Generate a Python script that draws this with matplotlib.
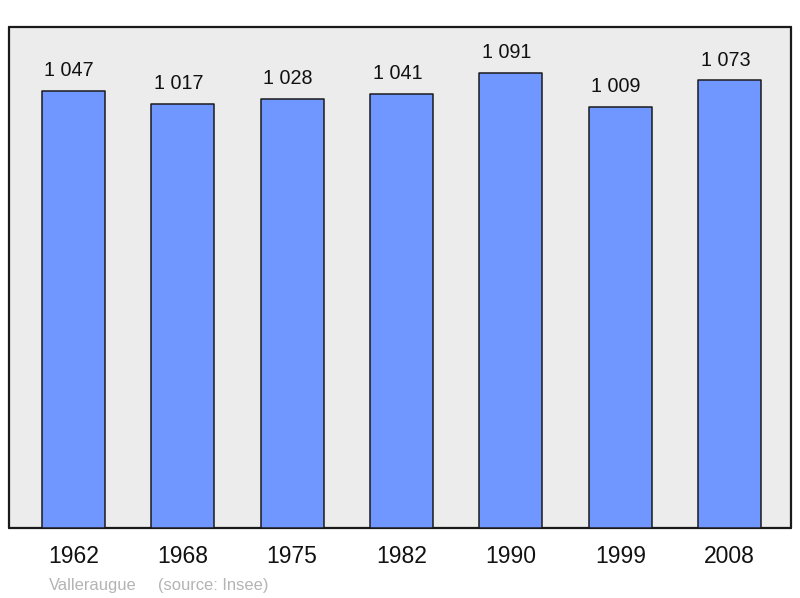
import matplotlib
matplotlib.use("Agg")
import matplotlib.pyplot as plt

years = ["1962", "1968", "1975", "1982", "1990", "1999", "2008"]
population = [1047, 1017, 1028, 1041, 1091, 1009, 1073]
value_labels = ["1 047", "1 017", "1 028", "1 041", "1 091", "1 009", "1 073"]
commune = "Valleraugue"
source = "(source: Insee)"

plt.rcParams['font.family'] = ['Liberation Sans', 'DejaVu Sans']

fig = plt.figure(figsize=(8, 5.98), dpi=100)
ax = fig.add_axes([8.5/800, (598-528.3)/598, 782.5/800, 501.6/598])
ax.set_facecolor('#ececec')

x = list(range(len(years)))
bars = ax.bar(x, population, width=0.576, color='#7097ff', edgecolor='#1a1a1a',
              linewidth=1.1, zorder=3)
for b in bars:
    b.set_joinstyle('round')

for xi, v, lab in zip(x, population, value_labels):
    ax.annotate(lab, xy=(xi, v), xytext=(-3, 10.5), textcoords='offset points',
                ha='center', va='baseline', fontsize=14.2, color='#111111')

ax.set_xlim(-0.592, 6.56)
ax.set_ylim(0, 1201)
ax.set_xticks(x)
ax.set_xticklabels(years, fontsize=16.5, color='#111111')
ax.tick_params(axis='x', length=0, pad=12)
ax.set_yticks([])
for s in ax.spines.values():
    s.set_linewidth(1.6)
    s.set_color('#1a1a1a')
    s.set_joinstyle('round')
    s.set_capstyle('round')

fig.text(49/800, 1 - 590/598, commune, fontsize=11.9, color='#b4b4b4', ha='left', va='baseline')
fig.text(158/800, 1 - 590/598, source, fontsize=11.9, color='#b4b4b4', ha='left', va='baseline')

fig.savefig('out.png', dpi=100)
